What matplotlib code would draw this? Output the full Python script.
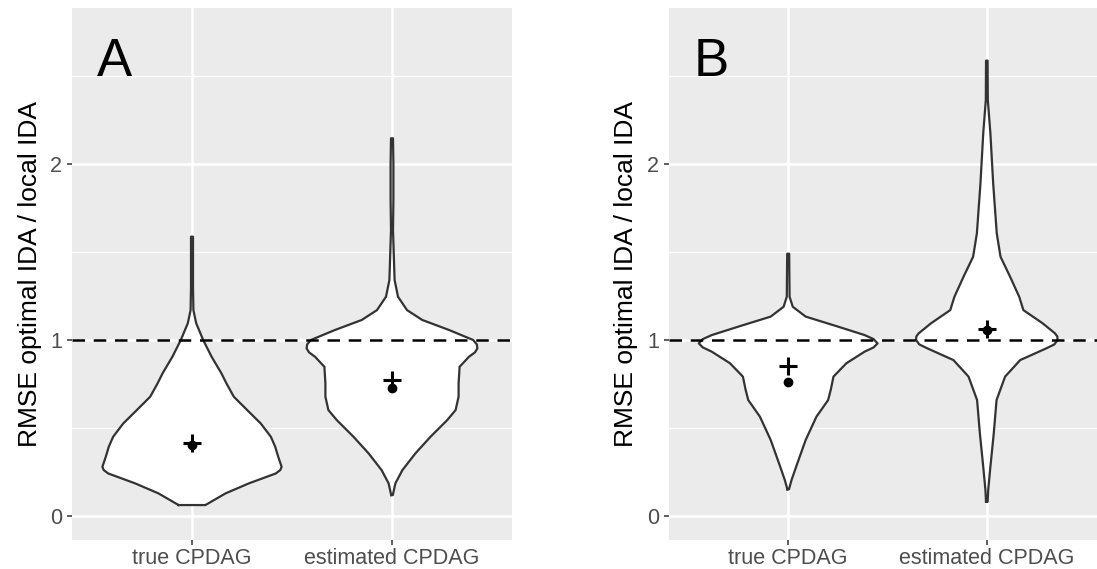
import numpy as np
import matplotlib.pyplot as plt

plt.rcParams['font.family'] = ['Liberation Sans', 'DejaVu Sans']

categories = ["true CPDAG", "estimated CPDAG"]
panel_labels = ["A", "B"]
y_label = "RMSE optimal IDA / local IDA"
y_ticks = [0, 1, 2]

# violin outlines: y level -> half width (x units)
a_true_y = [0.0625, 0.129, 0.186, 0.242, 0.262, 0.280, 0.300, 0.337, 0.394, 0.451, 0.527,
            0.602, 0.678, 0.754, 0.811, 0.905, 1.0, 1.095, 1.17, 1.30, 1.587]
a_true_w = [0.067, 0.168, 0.285, 0.419, 0.442, 0.448, 0.442, 0.431, 0.416, 0.394, 0.343,
            0.276, 0.209, 0.172, 0.147, 0.098, 0.056, 0.021, 0.007, 0.005, 0.005]
a_est_y = [0.119, 0.186, 0.261, 0.356, 0.451, 0.545, 0.602, 0.678, 0.754, 0.848,
           0.905, 0.930, 0.953, 0.975, 1.0, 1.057, 1.114, 1.170, 1.246, 1.341,
           1.625, 1.80, 2.0, 2.146]
a_est_w = [0.004, 0.017, 0.052, 0.117, 0.193, 0.276, 0.318, 0.333, 0.333, 0.338,
           0.385, 0.415, 0.427, 0.424, 0.406, 0.285, 0.151, 0.075, 0.030, 0.013,
           0.005, 0.007, 0.007, 0.005]
b_true_y = [0.152, 0.205, 0.299, 0.432, 0.564, 0.659, 0.716, 0.792, 0.868, 0.934,
            0.958, 0.981, 1.005, 1.028, 1.076, 1.133, 1.189, 1.246, 1.49]
b_true_w = [0.004, 0.017, 0.046, 0.088, 0.142, 0.201, 0.214, 0.228, 0.293, 0.385,
            0.43, 0.45, 0.43, 0.385, 0.251, 0.088, 0.023, 0.007, 0.005]
b_est_y = [0.081, 0.148, 0.28, 0.47, 0.659, 0.792, 0.886, 0.953, 0.975, 1.0, 1.02,
           1.038, 1.095, 1.17, 1.246, 1.36, 1.473, 1.606, 1.89, 2.174, 2.364, 2.587]
b_est_w = [0.004, 0.007, 0.018, 0.035, 0.049, 0.092, 0.168, 0.30, 0.34, 0.356, 0.355,
           0.343, 0.281, 0.184, 0.163, 0.117, 0.069, 0.05, 0.032, 0.018, 0.005, 0.004]

means = [[0.417, 0.775], [0.853, 1.06]]
medians = [[0.403, 0.727], [0.764, 1.058]]

violins = [[(a_true_y, a_true_w), (a_est_y, a_est_w)],
           [(b_true_y, b_true_w), (b_est_y, b_est_w)]]

W, H = 1097, 569
fig = plt.figure(figsize=(W / 100, H / 100), dpi=100)
boxes = [(72, 512), (669, 1106)]
label_x = [-0.068, -0.072]
top_px, bot_px = 8, 540

for i, (x0, x1) in enumerate(boxes):
    ax = fig.add_axes([x0 / W, 1 - bot_px / H, (x1 - x0) / W, (bot_px - top_px) / H])
    ax.set_facecolor('#EBEBEB')
    for s in ax.spines.values():
        s.set_visible(False)
    ax.set_xlim(0.4, 2.6)
    ax.set_ylim(-0.136, 2.886)
    for yv in [0.5, 1.5, 2.5]:
        ax.axhline(yv, color='white', lw=0.9, zorder=0)
    for yv in y_ticks:
        ax.axhline(yv, color='white', lw=1.8, zorder=0)
    for xv in [1, 2]:
        ax.axvline(xv, color='white', lw=1.8, zorder=0)

    for j, (ys, ws) in enumerate(violins[i]):
        ys = np.array(ys)
        ws = np.array(ws)
        xc = j + 1
        ax.fill_betweenx(ys, xc - ws, xc + ws, facecolor='white', edgecolor='none', zorder=2)
        px = np.concatenate([xc - ws, (xc + ws)[::-1], [xc - ws[0]]])
        py = np.concatenate([ys, ys[::-1], [ys[0]]])
        ax.plot(px, py, color='#333333', lw=1.6, zorder=3, solid_joinstyle='round')

    ax.axhline(1, color='black', lw=1.8, ls=(0, (5, 3.5)), zorder=4)
    ax.scatter([1, 2], medians[i], s=36, color='black', zorder=5)
    ax.scatter([1, 2], means[i], marker='+', s=180, color='black', linewidths=2.2, zorder=6)

    ax.set_xticks([1, 2])
    ax.set_xticklabels(categories)
    ax.set_yticks(y_ticks)
    ax.set_yticklabels([str(t) for t in y_ticks])
    ax.tick_params(axis='both', colors='#333333', labelcolor='#4D4D4D',
                   labelsize=15.5, length=3.6, width=1.1, pad=3.5)
    ax.tick_params(axis='x', pad=2.5)
    ax.set_ylabel(y_label, fontsize=19, color='black')
    ax.yaxis.set_label_coords(label_x[i], 0.5)
    ax.text(0.057, 0.898, panel_labels[i], transform=ax.transAxes, fontsize=38,
            color='black', va='center', ha='left')

fig.savefig('out.png', dpi=100)
